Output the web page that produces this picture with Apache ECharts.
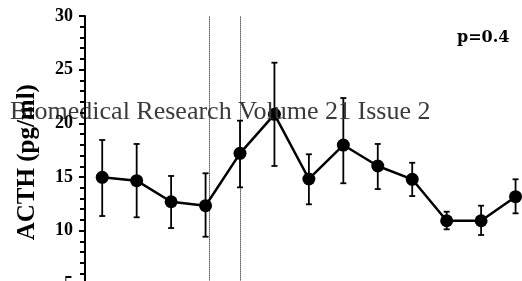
<!DOCTYPE html>
<html>
<head>
<meta charset="utf-8">
<script src="https://cdn.jsdelivr.net/npm/echarts@6/dist/echarts.min.js"></script>
<style>html,body{margin:0;padding:0;background:#fff;overflow:hidden;width:522px;height:281px;}#c{width:560px;height:300px;}</style>
</head>
<body>
<div id="c"></div>
<script>
// Data
const timepoints = [1, 2, 3, 4, 5, 6, 7, 8, 9, 10, 11, 12, 13];
const acthMean  = [14.97, 14.66, 12.70, 12.33, 17.21, 20.84, 14.82, 17.98, 16.03, 14.79, 10.93, 10.93, 13.17];
const acthUpper = [18.45, 18.08, 15.10, 15.35, 20.25, 25.65, 17.12, 22.36, 18.08, 16.33, 11.77, 12.33, 14.79];
const acthLower = [11.37, 11.25, 10.25, 9.44, 14.04, 16.03, 12.46, 14.42, 13.88, 13.23, 10.13, 9.60, 11.62];
const markerLines = [4.1, 5.02];
const yTicks = [5, 10, 15, 20, 25, 30];
const xMin = 0.5, xMax = 14;

const chart = echarts.init(document.getElementById('c'), null, {renderer: 'canvas'});

const lineData = timepoints.map((t, i) => [t, acthMean[i]]);
const errData = timepoints.map((t, i) => [t, acthLower[i], acthUpper[i]]);

chart.setOption({
  animation: false,
  backgroundColor: '#ffffff',
  title: [
    {
      text: 'Biomedical Research Volume 21 Issue 2', left: 10, top: 99, padding: 0,
      textStyle: {fontFamily: 'Liberation Serif', fontWeight: 'normal', fontSize: 26, color: '#3a3a3a'}
    },
    {
      text: 'p=0.4', left: 457, top: 30, padding: 0,
      textStyle: {fontFamily: 'DejaVu Serif', fontWeight: 'bold', fontSize: 16, color: '#000'}
    }
  ],
  grid: {left: 85, right: 10, top: 16, bottom: 15.6, outerBoundsMode: 'none'},
  xAxis: {type: 'value', min: xMin, max: xMax, show: false},
  yAxis: {
    type: 'value', min: yTicks[0], max: yTicks[yTicks.length - 1], interval: 5,
    z: 10,
    name: 'ACTH (pg/ml)',
    nameLocation: 'middle',
    nameRotate: 90,
    nameGap: 45,
    nameTextStyle: {fontFamily: 'Liberation Serif', fontWeight: 'bold', fontSize: 25, color: '#000', padding: [0, 24, 0, 0]},
    axisLine: {show: true, onZero: false, lineStyle: {color: '#000', width: 2}},
    axisTick: {show: true, inside: false, length: 6, lineStyle: {color: '#000', width: 2}},
    minorTick: {show: true, splitNumber: 5, length: 5, lineStyle: {color: '#000', width: 2}},
    splitLine: {show: false},
    minorSplitLine: {show: false},
    axisLabel: {
      color: '#000', fontFamily: 'Liberation Serif', fontWeight: 'bold', fontSize: 18, margin: 12
    }
  },
  series: [
    {
      type: 'custom',
      data: errData,
      z: 2,
      renderItem: function (params, api) {
        const x = api.value(0);
        const lo = api.coord([x, api.value(1)]);
        const hi = api.coord([x, api.value(2)]);
        const hw = 3;
        const st = {stroke: '#000', lineWidth: 1.8};
        return {
          type: 'group',
          children: [
            {type: 'line', shape: {x1: lo[0], y1: lo[1], x2: hi[0], y2: hi[1]}, style: st},
            {type: 'line', shape: {x1: lo[0] - hw, y1: lo[1], x2: lo[0] + hw, y2: lo[1]}, style: st},
            {type: 'line', shape: {x1: hi[0] - hw, y1: hi[1], x2: hi[0] + hw, y2: hi[1]}, style: st}
          ]
        };
      }
    },
    {
      type: 'line',
      data: lineData,
      z: 3,
      symbol: 'circle',
      symbolSize: 13,
      lineStyle: {color: '#000', width: 2.5},
      itemStyle: {color: '#000'},
      markLine: {
        silent: true,
        symbol: ['none', 'none'],
        label: {show: false},
        lineStyle: {color: '#000', type: 'dotted', width: 1},
        data: markerLines.map(v => ({xAxis: v}))
      }
    }
  ]
});
</script>
</body>
</html>
